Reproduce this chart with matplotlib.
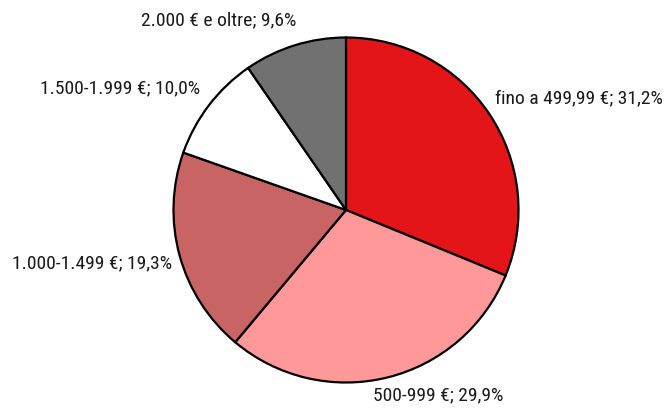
import matplotlib.pyplot as plt
from matplotlib import font_manager

# Distribuzione per fascia di reddito
categories = ["fino a 499,99 €", "500-999 €", "1.000-1.499 €", "1.500-1.999 €", "2.000 € e oltre"]
shares = [31.2, 29.9, 19.3, 10.0, 9.6]
colors = ["#E41518", "#FF9999", "#C86464", "#FFFFFF", "#717171"]

# label anchor points (pixels), alignment
label_pos = [(495, 98, "left"), (373, 395, "left"), (172, 263, "right"),
             (200, 88, "right"), (219, 20, "center")]

W, H = 669, 408
names = {f.name for f in font_manager.fontManager.ttflist}
narrow = [n for n in ("Liberation Sans Narrow", "Roboto Condensed", "Open Sans Condensed",
                      "DejaVu Sans Condensed") if n in names]
family = (narrow[:1] or ["Liberation Sans"]) + ["DejaVu Sans"]
plt.rcParams["font.family"] = family

fig = plt.figure(figsize=(W / 100, H / 100), dpi=100)
ax = fig.add_axes([0, 0, 1, 1])

ax.pie(shares, colors=colors, startangle=90, counterclock=False,
       center=(346, H - 210), radius=172.5,
       wedgeprops=dict(edgecolor="black", linewidth=1.6), frame=True)
ax.set_xlim(0, W)
ax.set_ylim(0, H)
ax.set_aspect("equal")
ax.axis("off")


def fmt(v):
    return f"{v:.1f}".replace(".", ",")


for cat, val, (x, y, ha) in zip(categories, shares, label_pos):
    ax.text(x, H - y, f"{cat}; {fmt(val)}%", ha=ha, va="center",
            fontsize=14, color="#1a1a1a")

fig.savefig("out.png", dpi=100, facecolor="white")
